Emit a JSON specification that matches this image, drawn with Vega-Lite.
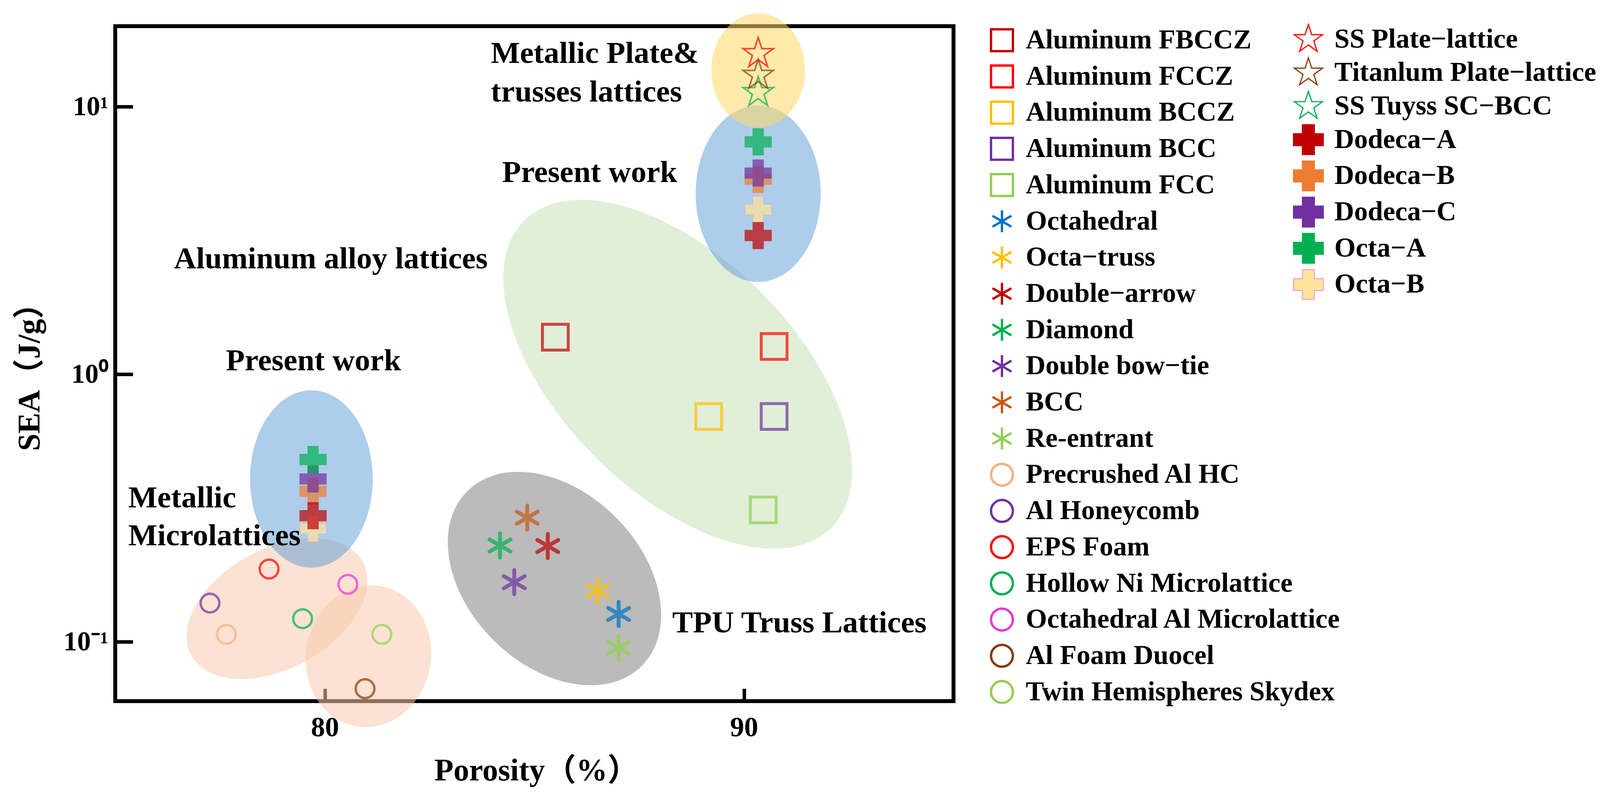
{
  "$schema": "https://vega.github.io/schema/vega-lite/v6.json",
  "width": 2146,
  "height": 1728,
  "autosize": {"type": "none"},
  "padding": {"left": 295, "top": 67, "right": 1699, "bottom": 248},
  "background": "white",
  "config": {
    "view": {"stroke": "black", "strokeWidth": 10},
    "font": "Liberation Serif",
    "legend": {"symbolOpacity": 1},
    "axis": {
      "domain": false, "grid": false, "ticks": true, "tickColor": "black", "tickWidth": 9,
      "labelFont": "Liberation Serif", "labelFontWeight": "bold", "labelColor": "black",
      "titleFont": "Liberation Serif, Noto Sans CJK SC", "titleFontWeight": "bold", "titleColor": "black", "titleFontSize": 80
    }
  },
  "encoding": {
    "x": {
      "field": "porosity", "type": "quantitative",
      "scale": {"domain": [75, 95], "nice": false, "zero": false},
      "axis": {"orient": "bottom", "values": [80, 90], "title": "Porosity（%）", "tickSize": -32, "labelPadding": 121, "labelBaseline": "alphabetic", "labelFontSize": 72, "titleX": 1078, "titleY": 202, "titleBaseline": "alphabetic", "titleAnchor": "middle"}
    },
    "y": {
      "field": "sea", "type": "quantitative",
      "scale": {"type": "log", "domain": [0.06, 20], "nice": false},
      "axis": {"orient": "left", "values": [0.1, 1, 10], "labelExpr": "datum.value < 0.5 ? '10⁻¹' : (datum.value < 5 ? '10⁰' : '10¹')", "title": "SEA（J/g）", "tickSize": -45, "labelPadding": 63, "labelFontSize": 70, "titleX": -219, "titleY": 878, "titleAngle": -90, "titleBaseline": "middle", "titleAnchor": "middle"}
    }
  },
  "resolve": {"scale": {"fill": "independent", "stroke": "independent", "shape": "independent"}},
  "layer": [
    {
      "data": {"values": [{"region": "Aluminum alloy lattices", "porosity": 88.42, "sea": 1.0}]},
      "mark": {"type": "point", "filled": true, "fill": "#A9D18E", "opacity": 0.35, "size": 1236544, "angle": 45,
        "shape": "M1,0C1,0.2971 0.5523,0.538 0,0.538C-0.5523,0.538 -1,0.2971 -1,0C-1,-0.2971 -0.5523,-0.538 0,-0.538C0.5523,-0.538 1,-0.2971 1,0Z"}
    },
    {
      "data": {"values": [{"region": "TPU Truss Lattices", "porosity": 85.48, "sea": 0.1723}]},
      "mark": {"type": "point", "filled": true, "fill": "#7F7F7F", "opacity": 0.53, "size": 399424, "angle": 45,
        "shape": "M1,0C1,0.388 0.5523,0.7025 0,0.7025C-0.5523,0.7025 -1,0.388 -1,0C-1,-0.388 -0.5523,-0.7025 0,-0.7025C0.5523,-0.7025 1,-0.388 1,0Z"}
    },
    {
      "data": {"values": [{"region": "Metallic Microlattices left", "porosity": 78.86, "sea": 0.133}]},
      "mark": {"type": "point", "filled": true, "fill": "#F8CBAD", "opacity": 0.55, "size": 250000, "angle": -28.7,
        "shape": "M1,0C1,0.338 0.5523,0.612 0,0.612C-0.5523,0.612 -1,0.338 -1,0C-1,-0.338 -0.5523,-0.612 0,-0.612C0.5523,-0.612 1,-0.338 1,0Z"}
    },
    {
      "data": {"values": [{"region": "Metallic Microlattices right", "porosity": 81.04, "sea": 0.0883}]},
      "mark": {"type": "point", "filled": true, "fill": "#F8CBAD", "opacity": 0.55, "size": 132496, "angle": 100,
        "shape": "M1,0C1,0.4855 0.5523,0.879 0,0.879C-0.5523,0.879 -1,0.4855 -1,0C-1,-0.4855 -0.5523,-0.879 0,-0.879C0.5523,-0.879 1,-0.4855 1,0Z"}
    },
    {
      "data": {"values": [{"region": "Present work lower", "porosity": 79.68, "sea": 0.406}]},
      "mark": {"type": "point", "filled": true, "fill": "#5B9BD5", "opacity": 0.5, "size": 206116, "angle": 90,
        "shape": "M1,0C1,0.382 0.5523,0.6916 0,0.6916C-0.5523,0.6916 -1,0.382 -1,0C-1,-0.382 -0.5523,-0.6916 0,-0.6916C0.5523,-0.6916 1,-0.382 1,0Z"}
    },
    {
      "data": {"values": [{"region": "Present work upper", "porosity": 90.34, "sea": 4.73}]},
      "mark": {"type": "point", "filled": true, "fill": "#5B9BD5", "opacity": 0.5, "size": 204304, "angle": 90,
        "shape": "M1,0C1,0.391 0.5523,0.708 0,0.708C-0.5523,0.708 -1,0.391 -1,0C-1,-0.391 -0.5523,-0.708 0,-0.708C0.5523,-0.708 1,-0.391 1,0Z"}
    },
    {
      "data": {"values": [{"region": "Metallic Plate & trusses lattices", "porosity": 90.34, "sea": 13.67}]},
      "mark": {"type": "point", "filled": true, "fill": "#FFD966", "opacity": 0.55, "size": 85264, "angle": 90,
        "shape": "M1,0C1,0.454 0.5523,0.822 0,0.822C-0.5523,0.822 -1,0.454 -1,0C-1,-0.454 -0.5523,-0.822 0,-0.822C0.5523,-0.822 1,-0.454 1,0Z"}
    },
    {
      "encoding": {
        "fill": {
          "field": "series", "type": "nominal",
          "scale": {
            "domain": ["Aluminum FBCCZ","Aluminum FCCZ","Aluminum BCCZ","Aluminum BCC","Aluminum FCC","Octahedral","Octa−truss","Double−arrow","Diamond","Double bow−tie","BCC","Re-entrant","Precrushed Al HC","Al Honeycomb","EPS Foam","Hollow Ni Microlattice","Octahedral Al Microlattice","Al Foam Duocel","Twin Hemispheres Skydex"],
            "range": ["transparent","transparent","transparent","transparent","transparent","transparent","transparent","transparent","transparent","transparent","transparent","transparent","transparent","transparent","transparent","transparent","transparent","transparent","transparent"]
          },
          "legend": {
            "title": null, "orient": "none", "legendX": 2235, "legendY": 1, "padding": 0,
            "rowPadding": 12.7, "labelOffset": 26, "symbolSize": 3136, "symbolStrokeWidth": 6,
            "labelFont": "Liberation Serif", "labelFontSize": 70, "labelFontWeight": "bold", "labelColor": "black",
            "labelLimit": 3000, "symbolOpacity": 1, "symbolLimit": 60
          }
        },
        "stroke": {
          "field": "series", "type": "nominal",
          "scale": {
            "domain": ["Aluminum FBCCZ","Aluminum FCCZ","Aluminum BCCZ","Aluminum BCC","Aluminum FCC","Octahedral","Octa−truss","Double−arrow","Diamond","Double bow−tie","BCC","Re-entrant","Precrushed Al HC","Al Honeycomb","EPS Foam","Hollow Ni Microlattice","Octahedral Al Microlattice","Al Foam Duocel","Twin Hemispheres Skydex"],
            "range": ["#C00000","#FF0000","#FFC000","#7030A0","#92D050","#0070C0","#FFC000","#C00000","#00B050","#7030A0","#C55A11","#92D050","#F4B183","#7030A0","#FF0000","#00B050","#E636D4","#843C0C","#92D050"]
          }
        },
        "shape": {
          "field": "series", "type": "nominal",
          "scale": {
            "domain": ["Aluminum FBCCZ","Aluminum FCCZ","Aluminum BCCZ","Aluminum BCC","Aluminum FCC","Octahedral","Octa−truss","Double−arrow","Diamond","Double bow−tie","BCC","Re-entrant","Precrushed Al HC","Al Honeycomb","EPS Foam","Hollow Ni Microlattice","Octahedral Al Microlattice","Al Foam Duocel","Twin Hemispheres Skydex"],
            "range": ["square","square","square","square","square",
              "M0,-1L0,1M-0.866,-0.5L0.866,0.5M-0.866,0.5L0.866,-0.5","M0,-1L0,1M-0.866,-0.5L0.866,0.5M-0.866,0.5L0.866,-0.5","M0,-1L0,1M-0.866,-0.5L0.866,0.5M-0.866,0.5L0.866,-0.5","M0,-1L0,1M-0.866,-0.5L0.866,0.5M-0.866,0.5L0.866,-0.5","M0,-1L0,1M-0.866,-0.5L0.866,0.5M-0.866,0.5L0.866,-0.5","M0,-1L0,1M-0.866,-0.5L0.866,0.5M-0.866,0.5L0.866,-0.5","M0,-1L0,1M-0.866,-0.5L0.866,0.5M-0.866,0.5L0.866,-0.5",
              "circle","circle","circle","circle","circle","circle","circle"]
          }
        }
      },
      "layer": [
        {
          "data": {"values": [
            {"series": "Aluminum FBCCZ", "porosity": 85.50, "sea": 1.376},
            {"series": "Aluminum FCCZ", "porosity": 90.72, "sea": 1.27},
            {"series": "Aluminum BCCZ", "porosity": 89.16, "sea": 0.695},
            {"series": "Aluminum BCC", "porosity": 90.72, "sea": 0.695},
            {"series": "Aluminum FCC", "porosity": 90.46, "sea": 0.311}
          ]},
          "mark": {"type": "point", "filled": true, "size": 4356, "strokeWidth": 7.5, "opacity": 0.7}
        },
        {
          "data": {"values": [
            {"series": "Octahedral", "porosity": 87.01, "sea": 0.127},
            {"series": "Octa−truss", "porosity": 86.51, "sea": 0.155},
            {"series": "Double−arrow", "porosity": 85.32, "sea": 0.228},
            {"series": "Diamond", "porosity": 84.18, "sea": 0.229},
            {"series": "Double bow−tie", "porosity": 84.52, "sea": 0.167},
            {"series": "BCC", "porosity": 84.83, "sea": 0.291},
            {"series": "Re-entrant", "porosity": 87.01, "sea": 0.095}
          ]},
          "mark": {"type": "point", "filled": true, "size": 3844, "strokeWidth": 10, "strokeCap": "round", "opacity": 0.7}
        },
        {
          "data": {"values": [
            {"series": "Precrushed Al HC", "porosity": 77.65, "sea": 0.1066},
            {"series": "Al Honeycomb", "porosity": 77.26, "sea": 0.1395},
            {"series": "EPS Foam", "porosity": 78.67, "sea": 0.187},
            {"series": "Hollow Ni Microlattice", "porosity": 79.47, "sea": 0.122},
            {"series": "Octahedral Al Microlattice", "porosity": 80.55, "sea": 0.164},
            {"series": "Al Foam Duocel", "porosity": 80.96, "sea": 0.0668},
            {"series": "Twin Hemispheres Skydex", "porosity": 81.36, "sea": 0.1066}
          ]},
          "mark": {"type": "point", "filled": true, "size": 2304, "strokeWidth": 6, "opacity": 0.7}
        }
      ]
    },
    {
      "encoding": {
        "fill": {
          "field": "series", "type": "nominal",
          "scale": {
            "domain": ["SS Plate−lattice","Titanlum Plate−lattice","SS Tuyss SC−BCC","Dodeca−A","Dodeca−B","Dodeca−C","Octa−A","Octa−B"],
            "range": ["transparent","transparent","transparent","#C00000","#ED7D31","#7030A0","#00B050","#FFE699"]
          },
          "legend": {
            "title": null, "orient": "none", "legendX": 3015, "legendY": -6, "padding": 0,
            "rowPadding": 3.7, "labelOffset": 27, "symbolSize": 5776, "symbolStrokeWidth": 3,
            "labelFont": "Liberation Serif", "labelFontSize": 70, "labelFontWeight": "bold", "labelColor": "black",
            "labelLimit": 3000, "symbolOpacity": 1, "symbolLimit": 60
          }
        },
        "stroke": {
          "field": "series", "type": "nominal",
          "scale": {
            "domain": ["SS Plate−lattice","Titanlum Plate−lattice","SS Tuyss SC−BCC","Dodeca−A","Dodeca−B","Dodeca−C","Octa−A","Octa−B"],
            "range": ["#FF0000","#843C0C","#00B050","#C00000","#ED7D31","#7030A0","#00B050","#F4A6C8"]
          }
        },
        "shape": {
          "field": "series", "type": "nominal",
          "scale": {
            "domain": ["SS Plate−lattice","Titanlum Plate−lattice","SS Tuyss SC−BCC","Dodeca−A","Dodeca−B","Dodeca−C","Octa−A","Octa−B"],
            "range": [
              "M0,-1L0.2245,-0.309L0.951,-0.309L0.3633,0.118L0.588,0.809L0,0.382L-0.588,0.809L-0.3633,0.118L-0.951,-0.309L-0.2245,-0.309Z",
              "M0,-1L0.2245,-0.309L0.951,-0.309L0.3633,0.118L0.588,0.809L0,0.382L-0.588,0.809L-0.3633,0.118L-0.951,-0.309L-0.2245,-0.309Z",
              "M0,-1L0.2245,-0.309L0.951,-0.309L0.3633,0.118L0.588,0.809L0,0.382L-0.588,0.809L-0.3633,0.118L-0.951,-0.309L-0.2245,-0.309Z",
              "cross","cross","cross","cross","cross"]
          }
        }
      },
      "layer": [
        {
          "data": {"values": [
            {"series": "SS Tuyss SC−BCC", "porosity": 90.34, "sea": 11.3},
            {"series": "Titanlum Plate−lattice", "porosity": 90.34, "sea": 13.1},
            {"series": "SS Plate−lattice", "porosity": 90.34, "sea": 15.8}
          ]},
          "mark": {"type": "point", "filled": true, "size": 6724, "strokeWidth": 4, "opacity": 0.7}
        },
        {
          "data": {"values": [
            {"series": "Octa−B", "porosity": 90.34, "sea": 4.12},
            {"series": "Octa−B", "porosity": 79.72, "sea": 0.265},
            {"series": "Dodeca−B", "porosity": 90.34, "sea": 5.35},
            {"series": "Dodeca−B", "porosity": 79.72, "sea": 0.365},
            {"series": "Dodeca−C", "porosity": 90.34, "sea": 5.65},
            {"series": "Dodeca−C", "porosity": 79.72, "sea": 0.406},
            {"series": "Octa−A", "porosity": 90.34, "sea": 7.39},
            {"series": "Octa−A", "porosity": 79.72, "sea": 0.48},
            {"series": "Dodeca−A", "porosity": 90.34, "sea": 3.30},
            {"series": "Dodeca−A", "porosity": 79.72, "sea": 0.296}
          ]},
          "mark": {"type": "point", "filled": true, "size": 4624, "strokeWidth": 1.5, "opacity": 0.7}
        }
      ]
    },
    {
      "data": {"values": [
        {"label": "Metallic Plate&", "porosity": 83.96, "sea": 14.57},
        {"label": "trusses lattices", "porosity": 83.96, "sea": 10.45},
        {"label": "Present work", "porosity": 84.23, "sea": 5.23},
        {"label": "Aluminum alloy lattices", "porosity": 76.40, "sea": 2.487},
        {"label": "Present work", "porosity": 77.64, "sea": 1.034},
        {"label": "Metallic", "porosity": 75.31, "sea": 0.318},
        {"label": "Microlattices", "porosity": 75.31, "sea": 0.2294},
        {"label": "TPU Truss Lattices", "porosity": 88.29, "sea": 0.1084}
      ]},
      "mark": {"type": "text", "align": "left", "baseline": "alphabetic", "font": "Liberation Serif", "fontSize": 79, "fontWeight": "bold", "color": "black"},
      "encoding": {"text": {"field": "label", "type": "nominal"}}
    }
  ]
}
